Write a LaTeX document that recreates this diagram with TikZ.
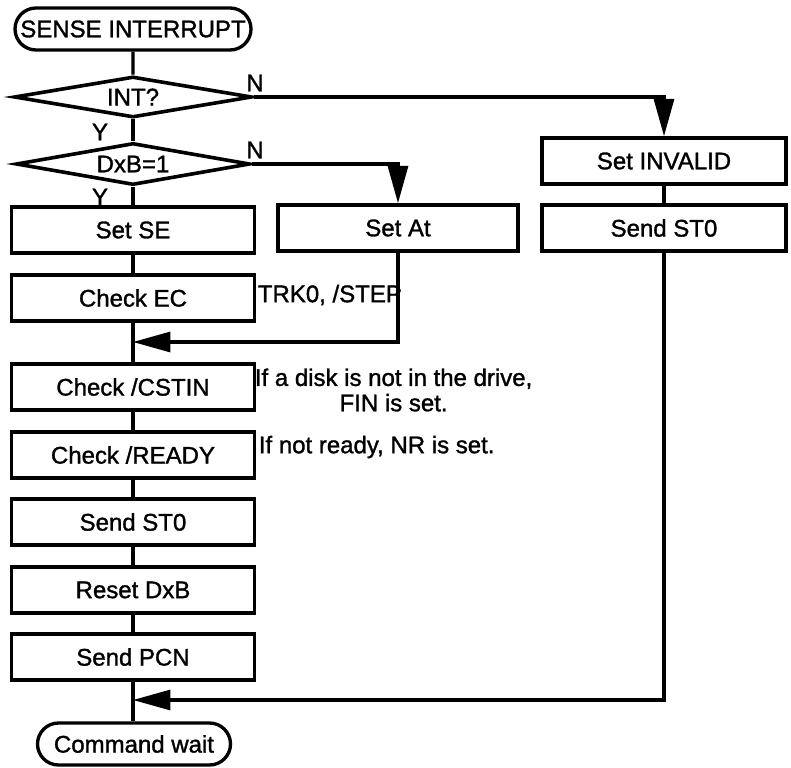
\documentclass[tikz,border=0pt]{standalone}
\usepackage{fontspec}
\setmainfont{Liberation Sans}[FakeBold=1.3]
\usetikzlibrary{shapes.geometric,shapes.misc,arrows.meta}
\newcommand{\px}{0.75pt}

\begin{document}
\begin{tikzpicture}[
  x=\px, y=-\px,
  font=\fontsize{18pt}{19pt}\selectfont,
  line width=2.3pt,
  caja/.style={rectangle, draw, line width=2.7pt, inner sep=0pt,
               minimum width=243*\px, minimum height=46*\px},
  terminal/.style={rounded rectangle, draw, line width=2.5pt, inner sep=0pt},
  decision/.style={diamond, draw, line width=2.7pt, inner sep=0pt, aspect=5.7},
  nota/.style={inner sep=1pt},
  flecha/.style={-{Triangle[length=28pt,width=15pt]}},
]
\useasboundingbox (0,0) rectangle (791,767);

% ---- Columna principal ----
\node[terminal, minimum width=236*\px, minimum height=42*\px] (inicio) at (133,29) {SENSE INTERRUPT};
\node[decision, minimum width=238*\px, minimum height=41*\px] (int) at (133,97) {INT?};
\node[decision, minimum width=234*\px, minimum height=42*\px] (dxb) at (133,164) {DxB=1};
\node[caja] (setse)   at (133,230) {Set SE};
\node[caja] (checkec) at (133,298) {Check EC};
\node[caja] (cstin)   at (133,387) {Check /CSTIN};
\node[caja] (ready)   at (133,455) {Check /READY};
\node[caja] (sendst)  at (133,522) {Send ST0};
\node[caja] (reset)   at (133,590) {Reset DxB};
\node[caja] (pcn)     at (133,657) {Send PCN};
\node[terminal, minimum width=193*\px, minimum height=42*\px] (fin) at (134,744) {Command wait};

% ---- Ramas ----
\node[caja, minimum width=240*\px] (setat) at (398,228) {Set At};
\node[caja, minimum width=244*\px] (inval) at (664,161) {Set INVALID};
\node[caja, minimum width=244*\px] (sendr) at (664,228) {Send ST0};

% ---- Uniones ----
\coordinate (union1) at (133,342);
\coordinate (union2) at (133,700);

% ---- Lineas ----
\draw (inicio) -- (int);
\draw (int) -- (dxb);
\draw (dxb) -- (setse);
\draw (setse) -- (checkec);
\draw (checkec) -- (cstin);
\draw (cstin) -- (ready);
\draw (ready) -- (sendst);
\draw (sendst) -- (reset);
\draw (reset) -- (pcn);
\draw (pcn) -- (fin.north -| pcn);
\draw[flecha] (int.east) -| (inval);
\draw[flecha] (dxb.east) -| (setat);
\draw (inval) -- (sendr);
\draw[flecha] (setat) |- (union1);
\draw[flecha] (sendr) |- (union2);

% ---- Etiquetas ----
\node (n1) at (255,83) {N};
\node (n2) at (255,150) {N};
\node (y1) at (100,132) {Y};
\node (y2) at (100,197) {Y};
\node[nota, anchor=west] (trk) at (255,295) {TRK0, /STEP};
\node[nota, anchor=west, align=center] (disco) at (252,390) {If a disk is not in the drive,\\FIN is set.};
\node[nota, anchor=west] (nr) at (256,447) {If not ready, NR is set.};

\end{tikzpicture}
\end{document}
